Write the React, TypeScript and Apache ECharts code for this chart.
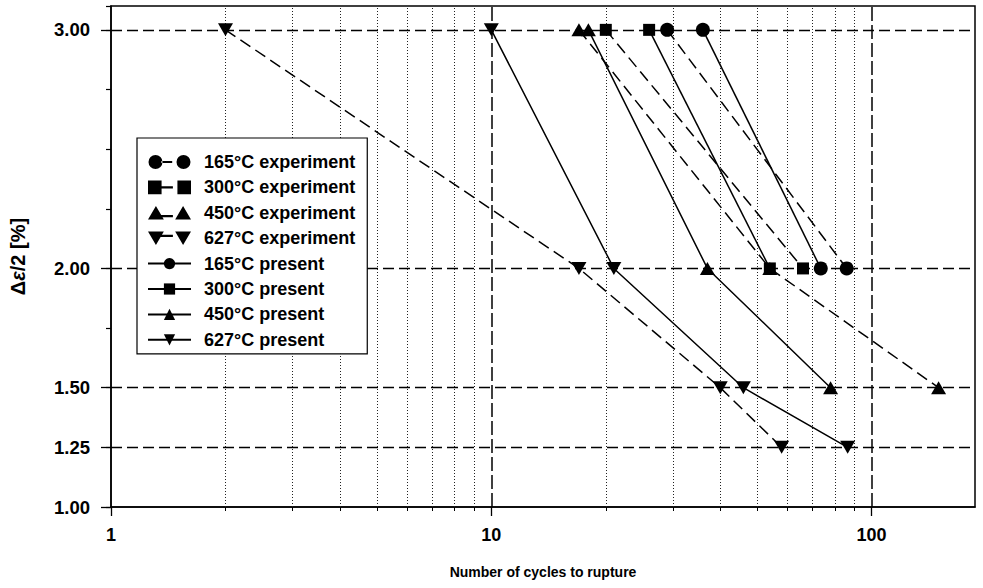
import React, { useEffect, useRef } from "react";
import * as echarts from "echarts";

// ---- data ----
const seriesNames = [
  "165°C experiment",
  "300°C experiment",
  "450°C experiment",
  "627°C experiment",
  "165°C present",
  "300°C present",
  "450°C present",
  "627°C present",
];

// [cycles to rupture, strain amplitude %]
const exp165 = [[29, 3.0], [86, 2.0]];
const exp300 = [[20, 3.0], [66, 2.0]];
const exp450 = [[17, 3.0], [54, 2.0], [150, 1.5]];
const exp627 = [[2, 3.0], [17, 2.0], [40, 1.5], [58, 1.25]];
const pre165 = [[36, 3.0], [73.5, 2.0]];
const pre300 = [[26, 3.0], [54, 2.0]];
const pre450 = [[18, 3.0], [37, 2.0], [78, 1.5]];
const pre627 = [[10, 3.0], [21, 2.0], [46, 1.5], [86.5, 1.25]];

const yLabelValues = [1.0, 1.25, 1.5, 2.0, 3.0];
const yGridValues = [1.25, 1.5, 2.0, 3.0];
const xMajorValues = [1, 10, 100];
const xMajorGrid = [10, 100];
const xMinorValues = [2, 3, 4, 5, 6, 7, 8, 9, 20, 30, 40, 50, 60, 70, 80, 90];

const FONT = "'Liberation Sans', Arial, Helvetica, sans-serif";

const INV_TRI = "path://M0,0L14,0L7,12Z";
const symbols = ["circle", "rect", "triangle", INV_TRI];
const symbolSizes: any[] = [14, 12, [15, 13], [15, 13]];

// legend icons for the experiment series: marker - dash - marker
const legendExpIcons = [
  "path://M0,7a6.5,6.5 0 1,0 13,0a6.5,6.5 0 1,0 -13,0ZM12,6L22,6L22,8L12,8ZM26,7a6.5,6.5 0 1,0 13,0a6.5,6.5 0 1,0 -13,0Z",
  "path://M0,1L12,1L12,13L0,13ZM12,6L22,6L22,8L12,8ZM26,1L38,1L38,13L26,13Z",
  "path://M0,13L7,1L14,13ZM10,9L22,9L22,11L10,11ZM24,13L31,1L38,13Z",
  "path://M0,1L14,1L7,13ZM10,4L22,4L22,6L10,6ZM24,1L38,1L31,13Z",
];

export default function App() {
  const ref = useRef<HTMLDivElement>(null);

  useEffect(() => {
    if (!ref.current) return;
    const chart = echarts.init(ref.current, undefined, { renderer: "svg" });

    const expData = [exp165, exp300, exp450, exp627];
    const preData = [pre165, pre300, pre450, pre627];

    const dataSeries: any[] = [];
    expData.forEach((d, i) => {
      dataSeries.push({
        name: seriesNames[i],
        type: "line",
        data: d,
        symbol: symbols[i],
        symbolSize: symbolSizes[i],
        showAllSymbol: true,
        itemStyle: { color: "#000" },
        lineStyle: { color: "#000", width: 1.5, type: [12, 6] },
        z: 3,
      });
    });
    preData.forEach((d, i) => {
      dataSeries.push({
        name: seriesNames[i + 4],
        type: "line",
        data: d,
        symbol: symbols[i],
        symbolSize: symbolSizes[i],
        showAllSymbol: true,
        itemStyle: { color: "#000" },
        lineStyle: { color: "#000", width: 1.5, type: "solid" },
        z: 4,
      });
    });

    const gridSeries = {
      name: "__grid",
      type: "line",
      data: [],
      silent: true,
      markLine: {
        silent: true,
        z: 1,
        symbol: ["none", "none"],
        label: { show: false },
        animation: false,
        data: [
          ...yGridValues.map((v) => ({
            yAxis: v,
            lineStyle: { type: [11, 5], width: 1.3, color: "#000" },
          })),
          ...xMajorGrid.map((v) => ({
            xAxis: v,
            lineStyle: { type: [14, 4], width: 1.5, color: "#000" },
          })),
          ...xMinorValues.map((v) => ({
            xAxis: v,
            lineStyle: { type: [1, 2], width: 1, color: "#222" },
          })),
        ],
      },
    };

    const option: any = {
      animation: false,
      backgroundColor: "#fff",
      textStyle: { fontFamily: FONT },
      grid: {
        left: 111,
        right: 8,
        top: 6,
        bottom: 81,
        show: true,
        borderColor: "#000",
        borderWidth: 1.5,
        backgroundColor: "transparent",
      },
      legend: {
        orient: "vertical",
        left: 137,
        top: 138,
        itemWidth: 43,
        itemHeight: 14,
        itemGap: 7.4,
        padding: [15, 12, 5, 10],
        borderColor: "#000",
        borderWidth: 1.2,
        backgroundColor: "#fff",
        selectedMode: false,
        symbolKeepAspect: true,
        textStyle: {
          fontFamily: FONT,
          fontSize: 18,
          fontWeight: "bold",
          color: "#000",
          padding: [0, 0, 0, 8],
        },
        data: seriesNames.map((n, i) =>
          i < 4 ? { name: n, icon: legendExpIcons[i] } : { name: n }
        ),
      },
      xAxis: [
        {
          type: "log",
          logBase: 10,
          min: 1,
          max: 187,
          position: "bottom",
          axisLine: { show: true, lineStyle: { color: "#000", width: 1.5 } },
          axisTick: {
            show: true,
            length: 9,
            customValues: xMajorValues,
            lineStyle: { color: "#000", width: 1.3 },
          },
          axisLabel: {
            customValues: xMajorValues,
            formatter: (v: number) => String(v),
            fontFamily: FONT,
            fontSize: 18,
            fontWeight: "bold",
            color: "#000",
            margin: 19,
          },
          splitLine: { show: false },
          name: "Number of cycles to rupture",
          nameLocation: "middle",
          nameGap: 58,
          nameTextStyle: {
            fontFamily: FONT,
            fontSize: 14,
            fontWeight: "bold",
            color: "#000",
          },
        },
        {
          type: "log",
          logBase: 10,
          min: 1,
          max: 187,
          position: "bottom",
          axisLine: { show: false },
          axisTick: {
            show: true,
            length: 4,
            customValues: xMinorValues,
            lineStyle: { color: "#000", width: 1 },
          },
          axisLabel: { show: false },
          splitLine: { show: false },
        },
      ],
      yAxis: [
        {
          type: "value",
          min: 1,
          max: 3.1,
          interval: 0.25,
          position: "left",
          axisLine: { show: true, lineStyle: { color: "#000", width: 1.5 } },
          axisTick: {
            show: true,
            length: 5,
            lineStyle: { color: "#000", width: 1.2 },
          },
          axisLabel: {
            customValues: yLabelValues,
            formatter: (v: number) => v.toFixed(2),
            fontFamily: FONT,
            fontSize: 18.5,
            fontWeight: "bold",
            color: "#000",
            margin: 21,
          },
          splitLine: { show: false },
          name: "{a|Δ}{e|ε}{a|/2 [%]}",
          nameLocation: "middle",
          nameGap: 83,
          nameRotate: 90,
          nameTextStyle: {
            rich: {
              a: { fontFamily: FONT, fontSize: 20, fontWeight: "bold", color: "#000" },
              e: {
                fontFamily: FONT,
                fontSize: 20,
                fontWeight: "bold",
                fontStyle: "italic",
                color: "#000",
              },
            },
          },
        },
        {
          type: "value",
          min: 1,
          max: 3.1,
          interval: 0.25,
          position: "left",
          axisLine: { show: false },
          axisTick: {
            show: true,
            length: 10,
            customValues: yLabelValues,
            lineStyle: { color: "#000", width: 1.3 },
          },
          axisLabel: { show: false },
          splitLine: { show: false },
        },
      ],
      series: [gridSeries, ...dataSeries],
    };

    chart.setOption(option);
    return () => chart.dispose();
  }, []);

  return (
    <div
      ref={ref}
      style={{ position: "absolute", left: 0, top: 0, width: 983, height: 588 }}
    />
  );
}
